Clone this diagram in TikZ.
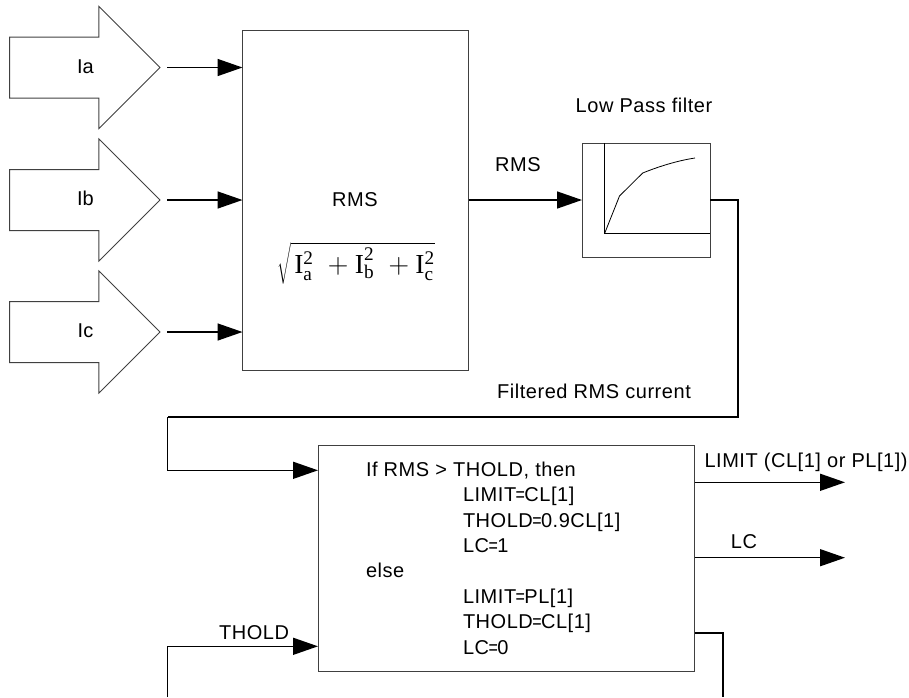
\documentclass[tikz,border=0pt]{standalone}
\usepackage{fontspec}
\setmainfont{Liberation Sans}
\setmathrm{Liberation Serif}
\usetikzlibrary{arrows.meta,shapes.arrows,positioning}
\newcommand{\phasesq}[1]{\mathrm{I}^{\mathrm{2}\rule[-2.2pt]{0pt}{0pt}}_{\rule{0pt}{6.5pt}\mathrm{#1}}}
\newcommand{\asg}{\kern-0.6pt\scalebox{.8}[1]{=}\kern-0.6pt}
\begin{document}
\begin{tikzpicture}[x=1pt,y=-1pt,
        box/.style={draw=black!75,line width=1pt,minimum width=#1,outer sep=0pt},
        inarrow/.style={draw=black!75,line width=1pt,single arrow,single arrow head extend=30.5pt,
                    single arrow head indent=0pt,minimum height=150.5pt,inner ysep=0pt,inner xsep=0pt,
                    text height=35.7pt,text depth=24.3pt,shape border rotate=0,outer sep=0pt,anchor=tail},
        arr/.style={-{Triangle[length=25pt,width=17pt]},black,line width=1.5pt},
        wire/.style={black,line width=1.5pt},
        lbl/.style={inner sep=0pt,outer sep=0pt},
        wide/.style={font=\fontsize{20}{24}\selectfont\addfontfeature{LetterSpace=2.7}}
      ]
        \useasboundingbox (0,0) rectangle (909,697);
        \tikzset{every node/.append style={font=\fontsize{20}{24}\selectfont}}
        % inputs
        \node[inarrow] (Ia) at (9.5,67.5) {\hspace*{32pt}Ia};
        \node[inarrow] (Ib) at (9.5,200) {\hspace*{32pt}Ib};
        \node[inarrow] (Ic) at (9.5,332) {\hspace*{32pt}Ic};
        % rms block
        \node[box=226pt,minimum height=340pt] (RMS) at (355.5,200) {};
        \node[lbl,wide] (RMSname) at (355,199.5) {RMS};
        \node[lbl,scale=1.375] (RMSeq) at (356,263)
          {$\sqrt{\kern2.5pt\phasesq{a}\;+\phasesq{b}\;+\phasesq{c}}$};
        \draw[arr,shorten <=7pt] (Ia.tip) -- (Ia.tip -| RMS.west);
        \draw[arr,shorten <=7pt] (Ib.tip) -- (Ib.tip -| RMS.west);
        \draw[arr,shorten <=7pt] (Ic.tip) -- (Ic.tip -| RMS.west);
        % filter
        \node[box=128pt,minimum height=114pt] (LPF) at (646,200) {};
        \node[lbl,wide] (LPFname) at (644,105) {Low Pass filter};
        \draw[black,line width=1pt] (604.5,143) -- (604.5,233.7) -- (710,233.7);
        \draw[black,line width=0.8pt] (604.5,233.7) -- (619.5,196) -- (642.7,173) .. controls (655,168) and (675,161) .. (695,158);
        \draw[arr] (RMS.east |- LPF.west) -- (LPF.west);
        \node[lbl,wide] (RMSout) at (518,165) {RMS};
        % limit logic
        \node[box=376.6pt,minimum height=226pt] (Logic) at (506.3,558) {};
        \node[lbl,right=48pt of Logic.west,align=left,font=\fontsize{20}{25.4}\selectfont\addfontfeature{LetterSpace=2.7}] (LogicTxt) {If RMS > THOLD, then\\
          \hspace*{97pt}LIMIT\asg CL[1]\\
          \hspace*{97pt}THOLD\asg 0.9CL[1]\\
          \hspace*{97pt}LC\asg 1\\
          else\\
          \hspace*{97pt}LIMIT\asg PL[1]\\
          \hspace*{97pt}THOLD\asg CL[1]\\
          \hspace*{97pt}LC\asg 0};
        \coordinate (fbR) at (738,417);
        \coordinate (fbL) at (167.5,417);
        \coordinate (rmsIn) at (318,470.3);
        \coordinate (tholdIn) at (318,646.3);
        \coordinate (tholdEnd) at (167.5,697);
        \draw[wire] (LPF.east) -| (fbR) -- (fbL);
        \draw[arr] (fbL) |- (rmsIn);
        \draw[arr] (tholdEnd) |- (tholdIn);
        \node[lbl,wide] (RMSfilt) at (594,391) {Filtered RMS current};
        \node[lbl,wide] (THOLDin) at (254,633) {THOLD};
        % outputs
        \coordinate (limStart) at (694.6,482.3);
        \coordinate (limEnd) at (845,482.3);
        \coordinate (lcStart) at (694.6,557.7);
        \coordinate (lcEnd) at (845,557.7);
        \coordinate (thStart) at (694.6,633);
        \coordinate (thEnd) at (723,697);
        \draw[arr] (limStart) -- (limEnd);
        \draw[arr] (lcStart) -- (lcEnd);
        \draw[wire] (thStart) -| (thEnd);
        \node[lbl,wide,anchor=west] (LIMITout) at (704.5,462.5) {LIMIT (CL[1] or PL[1])};
        \node[lbl,wide] (LCout) at (744,541.7) {LC};
      \end{tikzpicture}
\end{document}
